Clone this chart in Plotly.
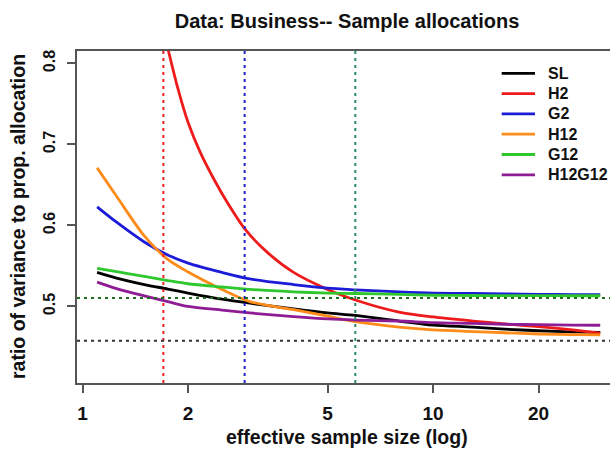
import plotly.graph_objects as go

# effective sample sizes (log scale)
x_common = [1.1, 1.25, 1.5, 1.75, 2, 2.5, 3, 4, 5, 6, 8, 10, 13, 16, 20, 25, 30]
x_h2 = [1.7, 1.865, 2, 2.17, 2.37, 2.59, 2.9, 3.36, 4, 5, 6, 8, 10, 13, 16, 20, 25, 30]

sl = [0.542, 0.535, 0.527, 0.5215, 0.5165, 0.509, 0.504, 0.497, 0.492, 0.489, 0.482, 0.477, 0.4745, 0.472, 0.470, 0.4685, 0.468]
h2 = [0.8415, 0.771, 0.727, 0.6895, 0.657, 0.628, 0.596, 0.567, 0.542, 0.521, 0.508, 0.493, 0.487, 0.482, 0.4785, 0.475, 0.471, 0.467]
g2 = [0.623, 0.604, 0.5796, 0.5635, 0.5535, 0.542, 0.534, 0.527, 0.5225, 0.5205, 0.518, 0.5165, 0.516, 0.5155, 0.515, 0.5147, 0.5144]
h12 = [0.671, 0.636, 0.587, 0.558, 0.5425, 0.521, 0.506, 0.496, 0.488, 0.4812, 0.4745, 0.471, 0.469, 0.4675, 0.466, 0.4652, 0.465]
g12 = [0.547, 0.543, 0.537, 0.532, 0.528, 0.524, 0.521, 0.518, 0.5165, 0.516, 0.5148, 0.5138, 0.5135, 0.5134, 0.5133, 0.5132, 0.5132]
h12g12 = [0.530, 0.522, 0.513, 0.506, 0.500, 0.4955, 0.492, 0.4875, 0.4846, 0.4832, 0.482, 0.480, 0.479, 0.478, 0.4775, 0.477, 0.4768]

series_names = ["SL", "H2", "G2", "H12", "G12", "H12G12"]
series_x = [x_common, x_h2, x_common, x_common, x_common, x_common]
series_y = [sl, h2, g2, h12, g12, h12g12]
series_colors = ["#000000", "#ee1b1b", "#1c1cd8", "#ff8c1a", "#2ec82e", "#8e1c94"]

# reference lines
vlines_x = [1.70, 2.90, 6.0]
vlines_color = ["#ee2222", "#2222cc", "#2e8b63"]
hlines_y = [0.5104, 0.4577]
hlines_color = ["#1e6e1e", "#333333"]

x_ticks = [1, 2, 5, 10, 20]
y_ticks = [0.5, 0.6, 0.7, 0.8]

FAM = "Liberation Sans, Arial, sans-serif"
TXT = "#111111"

# plot-area geometry in pixels (for placing legend/titles)
W, H = 610, 451
ML, MR, MT, MB = 77, 0, 51, 68
PW, PH = W - ML - MR, H - MT - MB

fig = go.Figure()
for name, xs, ys, col in zip(series_names, series_x, series_y, series_colors):
    fig.add_trace(go.Scatter(x=xs, y=ys, mode="lines", name=name, showlegend=False,
                             line=dict(color=col, width=2.8, shape="spline", smoothing=0.8)))

for xv, col in zip(vlines_x, vlines_color):
    fig.add_vline(x=xv, line=dict(color=col, width=2, dash="3px,4px"))
for yv, col in zip(hlines_y, hlines_color):
    fig.add_hline(y=yv, line=dict(color=col, width=2, dash="3px,4px"))

# manual legend (matches R's compact legend spacing)
leg_x0, leg_x1, leg_tx = 501.7, 535.0, 546.0
leg_y0, leg_dy = 73.3, 20.3
for i, (name, col) in enumerate(zip(series_names, series_colors)):
    yp = 1 - (leg_y0 + i * leg_dy - MT) / PH
    fig.add_shape(type="line", xref="paper", yref="paper",
                  x0=(leg_x0 - ML) / PW, x1=(leg_x1 - ML) / PW, y0=yp, y1=yp,
                  line=dict(color=col, width=2.8))
    fig.add_annotation(text=name, xref="paper", yref="paper", x=(leg_tx - ML) / PW, y=yp,
                       xanchor="left", yanchor="middle", showarrow=False,
                       font=dict(family=FAM, size=16, color=TXT, weight="bold"))

# axis titles
fig.add_annotation(text="effective sample size (log)", xref="paper", yref="paper",
                   x=(347 - ML) / PW, y=0, yshift=-(437 - (H - MB)), xanchor="center",
                   yanchor="middle", showarrow=False,
                   font=dict(family=FAM, size=19.5, color=TXT, weight="bold"))
fig.add_annotation(text="ratio of variance to prop. allocation", xref="paper", yref="paper",
                   x=0, xshift=18 - ML, y=0.5, xanchor="center", yanchor="middle",
                   textangle=-90, showarrow=False,
                   font=dict(family=FAM, size=19.5, color=TXT, weight="bold"))

axis_col = "#555555"

fig.update_layout(
    width=W, height=H,
    margin=dict(l=ML, r=MR, t=MT, b=MB),
    paper_bgcolor="white", plot_bgcolor="white",
    title=dict(text="Data: Business-- Sample allocations", x=347 / W, xanchor="center",
               y=1 - 21 / H, yanchor="middle",
               font=dict(family=FAM, size=20, color=TXT, weight="bold")),
    showlegend=False,
    xaxis=dict(type="log", range=[-0.016, 1.505], tickvals=x_ticks,
               ticktext=[str(t) for t in x_ticks], ticks="outside", ticklen=8, tickwidth=1.5,
               tickcolor=axis_col, showline=True, linecolor=axis_col, linewidth=2, mirror=True,
               showgrid=False, zeroline=False, automargin=False,
               tickfont=dict(family=FAM, size=19, color=TXT, weight="bold"),
               ticklabelstandoff=4),
    yaxis=dict(range=[0.4055, 0.8153], tickvals=y_ticks, ticktext=[f"{t:.1f}" for t in y_ticks],
               ticks="outside", ticklen=8, tickwidth=1.5, tickcolor=axis_col, showline=True,
               linecolor=axis_col, linewidth=2, mirror=False, showgrid=False, zeroline=False,
               automargin=False, tickangle=-90,
               tickfont=dict(family=FAM, size=16, color=TXT, weight="bold"),
               ticklabelstandoff=6),
)

fig.write_html("out.html", config={"displayModeBar": False},
               post_script="document.body.style.margin='0px';")
